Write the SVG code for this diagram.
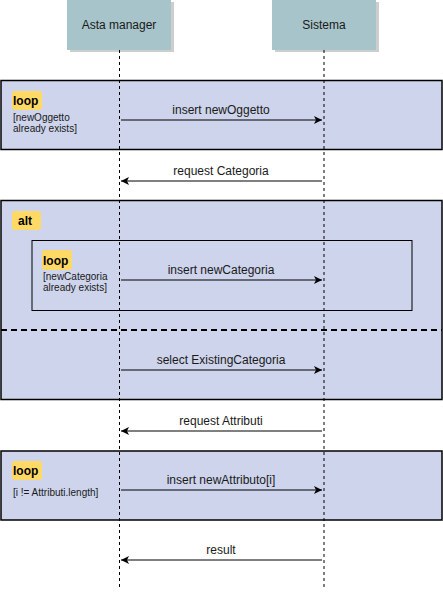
<svg xmlns="http://www.w3.org/2000/svg" width="443" height="592" viewBox="0 0 443 592">
<style>
.hdr{fill:#a6c4c9;}
.shadow{fill:#9e9e9e;opacity:0.5;}
.frame{fill:#cdd4eb;stroke:#000;stroke-width:1.5;}
.inner{fill:none;stroke:#000;stroke-width:1;}
.tag{fill:#ffd966;}
.life{stroke:#000;stroke-width:1;stroke-dasharray:3 3;fill:none;}
.msg{stroke:#000;stroke-width:1;fill:none;marker-end:url(#ah);}
text{font-family:"Liberation Sans",Arial,sans-serif;fill:#1a1a1a;}
.lbl{font-size:12px;text-anchor:middle;}
.kw{font-size:12px;font-weight:bold;fill:#000;}
.g{font-size:10px;}
</style>
<defs>
<marker id="ah" markerWidth="10" markerHeight="10" refX="8" refY="4" orient="auto" markerUnits="userSpaceOnUse">
<path d="M0,0 L8,4 L0,8 L2,4 Z" fill="#000"/>
</marker>
</defs>
<g id="frame-loop1">
<rect class="frame" x="1" y="80.5" width="441" height="69"/>
<rect class="tag" x="12" y="91" width="30" height="19" rx="3"/>
<text class="kw" x="13" y="105">loop</text>
<text class="g" x="13" y="121">[newOggetto</text>
<text class="g" x="13" y="132">already exists]</text>
</g>
<g id="frame-alt">
<rect class="frame" x="1" y="200.5" width="441" height="199"/>
<rect class="tag" x="12" y="211" width="29" height="19" rx="3"/>
<text class="kw" x="18" y="225">alt</text>
<line x1="1" y1="330" x2="442" y2="330" stroke="#000" stroke-width="2" stroke-dasharray="6 4"/>
</g>
<g id="frame-loop2">
<rect class="inner" x="32" y="240.5" width="380" height="70"/>
<rect class="tag" x="42" y="250" width="30" height="20" rx="3"/>
<text class="kw" x="43" y="265">loop</text>
<text class="g" x="43" y="280">[newCategoria</text>
<text class="g" x="43" y="291">already exists]</text>
</g>
<g id="frame-loop3">
<rect class="frame" x="1" y="451" width="441" height="69"/>
<rect class="tag" x="12" y="461" width="30" height="19" rx="3"/>
<text class="kw" x="13" y="475">loop</text>
<text class="g" x="13" y="496">[i != Attributi.length]</text>
</g>
<g id="node-asta">
<rect class="shadow" x="70" y="2" width="104" height="50"/>
<rect class="hdr" x="67" y="0" width="104" height="50"/>
<text class="lbl" x="119" y="29">Asta manager</text>
</g>
<g id="node-sistema">
<rect class="shadow" x="275" y="2" width="104" height="50"/>
<rect class="hdr" x="272" y="0" width="104" height="50"/>
<text class="lbl" x="324" y="29">Sistema</text>
</g>
<g id="connectors">
<line class="life" x1="119.5" y1="50" x2="119.5" y2="588"/>
<line class="life" x1="324" y1="50" x2="324" y2="588"/>
<line class="msg" x1="121" y1="120" x2="322" y2="120"/>
<text class="lbl" x="221" y="114">insert newOggetto</text>
<line class="msg" x1="322" y1="181" x2="121" y2="181"/>
<text class="lbl" x="221" y="175">request Categoria</text>
<line class="msg" x1="121" y1="280" x2="322" y2="280"/>
<text class="lbl" x="221" y="274">insert newCategoria</text>
<line class="msg" x1="121" y1="370" x2="322" y2="370"/>
<text class="lbl" x="221" y="364">select ExistingCategoria</text>
<line class="msg" x1="322" y1="431" x2="121" y2="431"/>
<text class="lbl" x="221" y="425">request Attributi</text>
<line class="msg" x1="121" y1="490" x2="322" y2="490"/>
<text class="lbl" x="221" y="484">insert newAttributo[i]</text>
<line class="msg" x1="322" y1="560" x2="121" y2="560"/>
<text class="lbl" x="221" y="554">result</text>
</g>
</svg>
